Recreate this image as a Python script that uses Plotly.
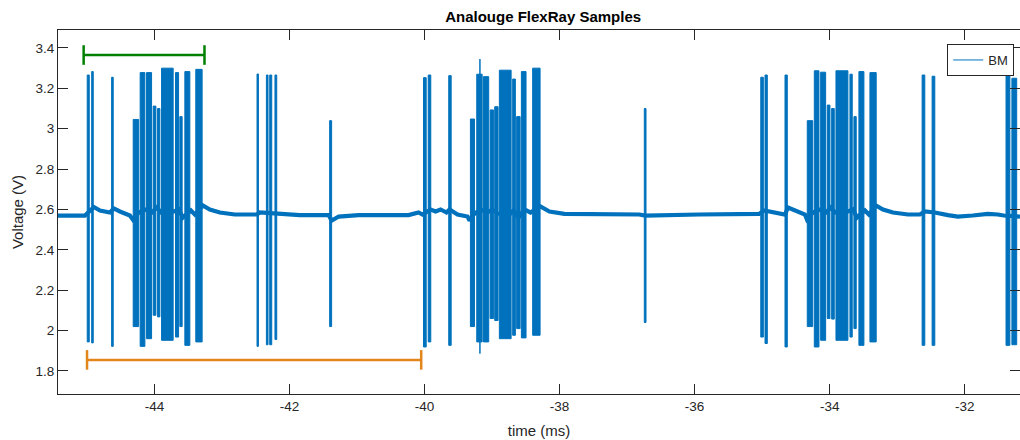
import plotly.graph_objects as go

# ---------------- data ----------------
# Pulse groups: start time (ms), end time (ms), peak voltage, trough voltage
grp_start = [-44.997, -44.931, -44.636, -44.316, -44.213, -44.118, -44.020, -43.955,
             -43.896, -43.689, -43.625, -43.551, -43.389,
             -42.482, -42.343, -42.294, -42.216, -41.406,
             -40.016, -39.946, -39.642, -39.321, -39.227, -39.180, -39.128, -39.029,
             -38.961, -38.892, -38.695, -38.636, -38.566, -38.399,
             -36.745,
             -35.020, -34.957, -34.661, -34.331, -34.227, -34.133, -34.035, -33.970,
             -33.906, -33.699, -33.640, -33.566, -33.403,
             -32.630, -32.482, -31.387, -31.300]
grp_end = [-44.967, -44.908, -44.612, -44.236, -44.143, -44.044, -43.980, -43.921,
           -43.724, -43.644, -43.591, -43.477, -43.295,
           -42.461, -42.319, -42.264, -42.190, -41.377,
           -39.976, -39.908, -39.606, -39.261, -39.147, -39.174, -39.050, -38.980,
           -38.911, -38.718, -38.655, -38.585, -38.497, -38.289,
           -36.720,
           -34.982, -34.923, -34.627, -34.251, -34.158, -34.059, -33.995, -33.931,
           -33.729, -33.665, -33.606, -33.492, -33.310,
           -32.590, -32.442, -31.330, -31.229]
grp_high = [3.266, 3.283, 3.255, 3.046, 3.278, 3.278, 3.112, 3.100,
            3.300, 3.278, 3.060, 3.283, 3.294,
            3.271, 3.266, 3.266, 3.266, 3.040,
            3.253, 3.266, 3.263, 3.048, 3.270, 3.345, 3.258, 3.093,
            3.109, 3.290, 3.246, 3.060, 3.283, 3.300,
            3.100,
            3.255, 3.266, 3.266, 3.040, 3.287, 3.280, 3.117, 3.100,
            3.287, 3.270, 3.060, 3.283, 3.278,
            3.266, 3.260, 3.275, 3.250]
grp_low = [1.944, 1.939, 1.922, 2.020, 1.922, 1.960, 2.076, 2.068,
           1.952, 1.968, 2.020, 1.927, 1.944,
           1.922, 1.930, 1.930, 1.956, 2.020,
           1.919, 1.944, 1.927, 2.020, 1.944, 1.886, 1.944, 2.060,
           2.050, 1.960, 1.977, 2.010, 1.964, 1.977,
           2.040,
           1.968, 1.936, 1.919, 2.020, 1.919, 1.952, 2.060, 2.057,
           1.952, 1.968, 2.010, 1.927, 1.944,
           1.927, 1.927, 1.927, 1.930]

# Baseline (idle level) samples between pulse groups
base_t = [-45.430, -45.031, -44.898, -44.809, -44.661, -44.602, -44.513, -44.365,
          -44.321, -44.232, -44.128, -44.039, -43.965, -43.906, -43.714, -43.640,
          -43.581, -43.462, -43.403, -43.285, -43.181, -43.033, -42.811, -42.485,
          -42.441, -42.145, -41.849, -41.420, -41.376, -41.272, -40.976, -40.237,
          -40.089, -40.030, -39.911, -39.837, -39.763, -39.675, -39.630, -39.512,
          -39.364, -39.334, -39.275, -39.172, -39.068, -38.994, -38.920, -38.743,
          -38.683, -38.609, -38.521, -38.432, -38.284, -38.151, -37.929, -36.820,
          -36.731, -35.932, -35.045, -34.971, -34.823, -34.661, -34.617, -34.454,
          -34.365, -34.336, -34.247, -34.143, -34.054, -33.980, -33.921, -33.729,
          -33.654, -33.595, -33.477, -33.418, -33.314, -33.210, -33.062, -32.840,
          -32.663, -32.589, -32.441, -32.249, -32.101, -31.879, -31.657, -31.509,
          -31.420, -31.180]
base_v = [2.570, 2.570, 2.612, 2.595, 2.585, 2.605, 2.590, 2.570,
          2.550, 2.585, 2.600, 2.585, 2.610, 2.585, 2.590, 2.600,
          2.560, 2.595, 2.575, 2.620, 2.600, 2.585, 2.575, 2.575,
          2.585, 2.580, 2.572, 2.572, 2.545, 2.565, 2.572, 2.572,
          2.585, 2.575, 2.600, 2.590, 2.600, 2.585, 2.600, 2.575,
          2.565, 2.545, 2.575, 2.600, 2.585, 2.600, 2.580, 2.575,
          2.595, 2.560, 2.600, 2.585, 2.615, 2.590, 2.578, 2.575,
          2.570, 2.575, 2.578, 2.595, 2.585, 2.575, 2.610, 2.585,
          2.575, 2.550, 2.585, 2.600, 2.585, 2.610, 2.585, 2.590,
          2.600, 2.560, 2.595, 2.575, 2.620, 2.600, 2.585, 2.575,
          2.575, 2.590, 2.585, 2.572, 2.565, 2.570, 2.578, 2.575,
          2.570, 2.565]

# Annotation brackets
green_span = [-45.05, -43.26]
green_level = 3.365
orange_span = [-45.00, -40.05]
orange_level = 1.855

x_ticks = [-44, -42, -40, -38, -36, -34, -32]
x_labels = ["-44", "-42", "-40", "-38", "-36", "-34", "-32"]
y_ticks = [1.8, 2.0, 2.2, 2.4, 2.6, 2.8, 3.0, 3.2, 3.4]
y_labels = ["1.8", "2", "2.2", "2.4", "2.6", "2.8", "3", "3.2", "3.4"]

x_range = [-45.43, -31.18]
y_range = [1.686, 3.489]

# ---------------- figure ----------------
BLUE = "#0072BD"
AXC = "#262626"
FONT = "Liberation Sans, Arial, sans-serif"

fig = go.Figure()

# baseline band
fig.add_trace(go.Scatter(x=base_t, y=base_v, mode="lines",
                         line=dict(color=BLUE, width=4.2), showlegend=False,
                         hoverinfo="skip"))

# pulse groups as filled blocks between trough and peak
px, py = [], []
for s, e, hi, lo in zip(grp_start, grp_end, grp_high, grp_low):
    px += [s, s, e, e, s, None]
    py += [lo, hi, hi, lo, lo, None]
fig.add_trace(go.Scatter(x=px, y=py, mode="lines", fill="toself",
                         fillcolor=BLUE, line=dict(color=BLUE, width=1),
                         showlegend=False, hoverinfo="skip"))

# legend entry
fig.add_trace(go.Scatter(x=[None], y=[None], mode="lines", name="BM",
                         line=dict(color=BLUE, width=1)))

# brackets
fig.add_trace(go.Scatter(x=green_span, y=[green_level, green_level],
                         mode="lines+markers", showlegend=False,
                         line=dict(color="#008000", width=2.5),
                         marker=dict(symbol="line-ns", size=14,
                                     line=dict(color="#008000", width=2.5))))
fig.add_trace(go.Scatter(x=orange_span, y=[orange_level, orange_level],
                         mode="lines+markers", showlegend=False,
                         line=dict(color="#E2861C", width=2.5),
                         marker=dict(symbol="line-ns", size=14,
                                     line=dict(color="#E2861C", width=2.5))))

axis_common = dict(showline=True, linecolor=AXC, linewidth=1, mirror="ticks",
                   ticks="inside", ticklen=10, tickcolor=AXC, tickwidth=1,
                   showgrid=False, zeroline=False, automargin=False,
                   tickfont=dict(family=FONT, size=13.5, color=AXC))

fig.update_xaxes(range=x_range, tickvals=x_ticks, ticktext=x_labels,
                 title=dict(text="time (ms)", standoff=12,
                            font=dict(family=FONT, size=15, color=AXC)),
                 **axis_common)
fig.update_yaxes(range=y_range, tickvals=y_ticks, ticktext=y_labels,
                 title=dict(text="Voltage (V)", standoff=8,
                            font=dict(family=FONT, size=15, color=AXC)),
                 **axis_common)

fig.update_layout(
    width=1020, height=440,
    margin=dict(l=58, r=0, t=30, b=46),
    paper_bgcolor="white", plot_bgcolor="white",
    title=dict(text="<b>Analouge FlexRay Samples</b>", x=0.5325, xanchor="center",
               y=0.962, yanchor="middle",
               font=dict(family=FONT, size=15, color="black")),
    legend=dict(x=0.9940, y=0.9615, xanchor="right", yanchor="top",
                bgcolor="white", bordercolor=AXC, borderwidth=1,
                font=dict(family=FONT, size=13, color=AXC),
                itemwidth=30, tracegroupgap=0),
    showlegend=True,
)

fig.write_html("out.html",
               config={"displayModeBar": False},
               post_script="document.body.style.margin='0';"
                           "document.body.style.overflow='hidden';")
